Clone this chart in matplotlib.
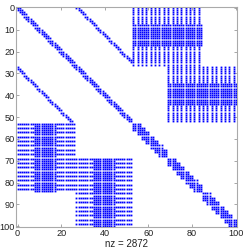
import numpy as np
import matplotlib
matplotlib.use("Agg")
import matplotlib.pyplot as plt

plt.rcParams['font.family'] = ['Liberation Sans', 'DejaVu Sans']

# matrix size and structure
n = 101
n_top = 53                      # leading block 0..52
band_offsets = [-1, 0, 1]       # main band in the leading block
coupling_offsets = [27, 28]     # side bands (mirrored below the diagonal)

group_starts = [53, 69, 85]     # block-diagonal groups in the lower right
group_size = 16
block_size = 4
block_step = 2

stripe_row_ranges = [(0, 26), (27, 52)]   # rows of the off-diagonal stripe blocks
stripe_col_starts = [53, 69]
stripe_width = 32
dense_row_ranges = [(8, 17), (35, 44)]    # fully filled rows inside each block

x_ticks = [0, 20, 40, 60, 80, 100]
y_ticks = [0, 10, 20, 30, 40, 50, 60, 70, 80, 90, 100]
nz_label = "nz = 2872"

M = np.zeros((n, n), dtype=bool)

# leading block bands
for i in range(n_top):
    for off in band_offsets:
        j = i + off
        if 0 <= j < n_top:
            M[i, j] = True
    for off in coupling_offsets:
        j = i + off
        if j < n_top:
            M[i, j] = True
            M[j, i] = True

# lower-right chains of overlapping small blocks
for g in group_starts:
    for s in range(0, group_size - block_size + 1, block_step):
        a = g + s
        M[a:a + block_size, a:a + block_size] = True

# striped coupling blocks + their transposes
for (r0, r1), c0, (d0, d1) in zip(stripe_row_ranges, stripe_col_starts, dense_row_ranges):
    cols = np.arange(c0, min(c0 + stripe_width, n))
    for c in cols[::2]:
        M[r0:r1 + 1, c] = True
    M[d0:d1 + 1, cols] = True
M = M | M.T

fig = plt.figure(figsize=(2.45, 2.49), dpi=100)
ax = fig.add_axes([0.067, 0.087, 0.900, 0.886])
ax.spy(M, marker='s', markersize=1.3, markeredgewidth=0, color='#0000ff')

ax.xaxis.tick_bottom()
ax.set_xticks(x_ticks)
ax.set_yticks(y_ticks)
ax.set_xlim(-0.5, n - 0.5)
ax.set_ylim(n - 0.5, -0.5)
ax.tick_params(direction='in', length=2.5, width=0.6, color='#999999',
               top=True, right=True, labeltop=False, labelsize=6.6, pad=1,
               labelcolor='#222222')
for sp in ax.spines.values():
    sp.set_color('#aaaaaa')
    sp.set_linewidth(0.8)
ax.set_xlabel(nz_label, fontsize=7, labelpad=1, color='#222222')

fig.savefig('out.png', dpi=100)
